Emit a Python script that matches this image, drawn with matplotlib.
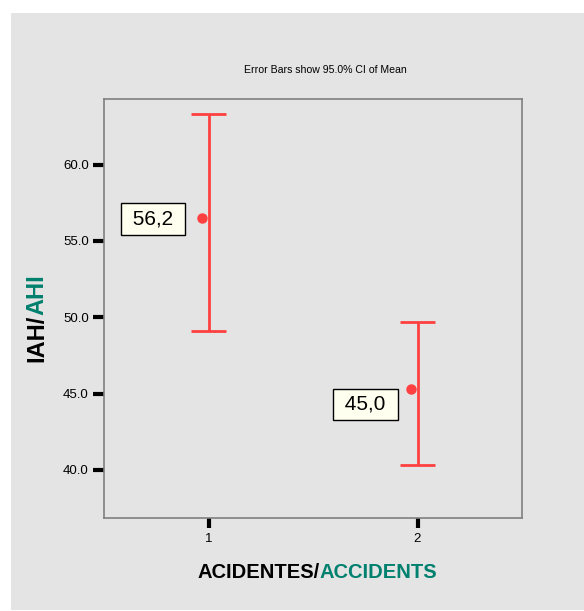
import matplotlib
matplotlib.use('Agg')
import matplotlib.pyplot as plt
from matplotlib.patches import Rectangle

groups = [1, 2]
means = [56.5, 45.3]
ci_low = [49.1, 40.3]
ci_high = [63.3, 49.7]
mean_labels = ['56,2', '45,0']
y_ticks = [40.0, 45.0, 50.0, 55.0, 60.0]

RED = '#ff4040'
TEAL = '#00806e'
PANEL = '#e4e4e4'
W, H = 584, 611

plt.rcParams['font.family'] = ['Liberation Sans', 'DejaVu Sans']

fig = plt.figure(figsize=(W / 100, H / 100), dpi=100)
fig.patch.set_facecolor('white')
fig.patches.append(Rectangle((11 / W, 1 / H), 1 - 11 / W, (610 - 13) / H,
                             transform=fig.transFigure, facecolor=PANEL,
                             edgecolor='none', zorder=-5))

ax = fig.add_axes([104 / W, 1 - 518 / H, (522 - 104) / W, (518 - 99) / H])
ax.set_zorder(2)
ax.set_facecolor(PANEL)
for s in ax.spines.values():
    s.set_color('#808080')
    s.set_linewidth(1.2)

# error bars (CI) and means, the dot sits slightly left of the bar
for g, lo, hi in zip(groups, ci_low, ci_high):
    ax.vlines(g, lo, hi, color=RED, lw=2)
    ax.hlines([lo, hi], g - 0.085, g + 0.085, color=RED, lw=2)
ax.plot([g - 0.03 for g in groups], means, 'o', color=RED, ms=6.5, zorder=5)

ax.set_xlim(0.5, 2.5)
ax.set_ylim(36.85, 64.3)
ax.set_xticks(groups)
ax.set_xticklabels([str(g) for g in groups])
ax.set_yticks(y_ticks)
ax.set_yticklabels(['%.1f' % v for v in y_ticks])
ax.tick_params(axis='y', length=8, width=3, color='black', labelsize=9.5, pad=3)
ax.tick_params(axis='x', length=7, width=3, color='black', labelsize=9.5, pad=4)

# value boxes
box = dict(boxstyle='square,pad=0.3', facecolor='#fffff0', edgecolor='black', lw=1)
ax.text(0.735, means[0] - 0.05, ' %s ' % mean_labels[0], fontsize=15, ha='center',
        va='center', bbox=box)
ax.text(1.75, means[1] - 1.0, ' %s ' % mean_labels[1], fontsize=15, ha='center',
        va='center', bbox=box)

fig.text(325 / W, 1 - 70 / H, 'Error Bars show 95.0% CI of Mean', fontsize=7.6,
         ha='center', va='center')

# two-colour axis titles
t1 = fig.text(197 / W, 1 - 573 / H, 'ACIDENTES/', fontsize=14.5, fontweight='bold',
              ha='left', va='center', color='black')
fig.add_artist(plt.Annotation('ACCIDENTS', xy=(1, 0), xycoords=t1, ha='left', va='bottom',
                              fontsize=14.5, fontweight='bold', color=TEAL))

t2 = fig.text(37 / W, 1 - 362 / H, 'IAH/', fontsize=17, fontweight='bold',
              rotation=90, ha='center', va='bottom', color='black')
fig.add_artist(plt.Annotation('AHI', xy=(0, 1), xycoords=t2, ha='left', va='bottom',
                              rotation=90, fontsize=17, fontweight='bold', color=TEAL))

fig.savefig('out.png', dpi=100)
